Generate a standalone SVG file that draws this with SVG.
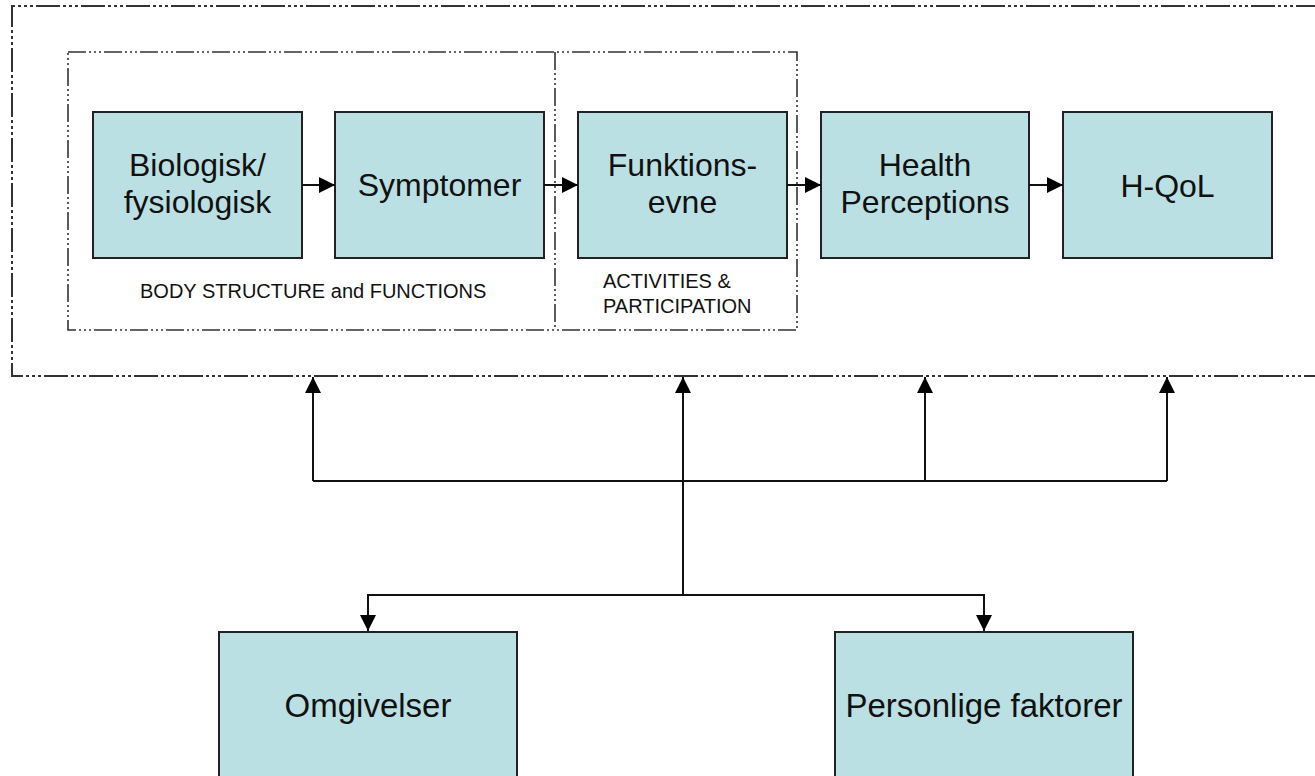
<svg xmlns="http://www.w3.org/2000/svg" width="1315" height="776" viewBox="0 0 1315 776">
<defs>
<style>
.node{fill:#bbe0e3;stroke:#222;stroke-width:2}
.t{font-family:"Liberation Sans",Arial,sans-serif;font-size:32px;fill:#111;text-anchor:middle}
.b{font-family:"Liberation Sans",Arial,sans-serif;font-size:33px;fill:#111;text-anchor:middle}
.lab{font-family:"Liberation Sans",Arial,sans-serif;font-size:20px;fill:#111}
.frame{fill:none;stroke:#333;stroke-width:2;stroke-dasharray:24 3 3 3 3 3 3 3}
.inner{fill:none;stroke:#333;stroke-width:1.6;stroke-dasharray:18 3 2 3 2 3 2 3}
.c{fill:none;stroke:#111;stroke-width:2}
</style>
<marker id="arr" viewBox="0 0 16 16" refX="16" refY="8" markerWidth="16" markerHeight="16" orient="auto" markerUnits="userSpaceOnUse">
<path d="M0,0 L16,8 L0,16 Z" fill="#000"/>
</marker>
</defs>
<rect width="1315" height="776" fill="#fff"/>
<g id="frames">
<path class="frame" d="M1320,6 H12 V376 H1320"/>
<rect class="inner" x="68" y="52" width="729" height="278"/>
<line class="inner" x1="555" y1="52" x2="555" y2="330"/>
<text class="lab" x="140" y="298">BODY STRUCTURE and FUNCTIONS</text>
<text class="lab" x="603" y="288">ACTIVITIES &amp;</text>
<text class="lab" x="603" y="313">PARTICIPATION</text>
</g>
<g id="n-bio"><rect class="node" x="93" y="112" width="209" height="146"/><text class="t" x="197.5" y="176">Biologisk/</text><text class="t" x="197.5" y="213">fysiologisk</text></g>
<g id="n-sym"><rect class="node" x="335" y="112" width="209" height="146"/><text class="t" x="439.5" y="196">Symptomer</text></g>
<g id="n-fun"><rect class="node" x="578" y="112" width="209" height="146"/><text class="t" x="682.5" y="176">Funktions-</text><text class="t" x="682.5" y="213">evne</text></g>
<g id="n-hp"><rect class="node" x="821" y="112" width="208" height="146"/><text class="t" x="925" y="176">Health</text><text class="t" x="925" y="213">Perceptions</text></g>
<g id="n-hqol"><rect class="node" x="1063" y="112" width="209" height="146"/><text class="t" x="1167.5" y="197">H-QoL</text></g>
<g id="n-omg"><rect class="node" x="219" y="632" width="298" height="160"/><text class="b" x="368" y="717">Omgivelser</text></g>
<g id="n-pers"><rect class="node" x="835" y="632" width="298" height="160"/><text class="b" x="984" y="717">Personlige faktorer</text></g>
<g id="connectors">
<line class="c" x1="302" y1="185" x2="335" y2="185" marker-end="url(#arr)"/>
<line class="c" x1="544" y1="185" x2="578" y2="185" marker-end="url(#arr)"/>
<line class="c" x1="787" y1="185" x2="821" y2="185" marker-end="url(#arr)"/>
<line class="c" x1="1029" y1="185" x2="1063" y2="185" marker-end="url(#arr)"/>
<path class="c" d="M313,481 H1167"/>
<line class="c" x1="313" y1="481" x2="313" y2="377" marker-end="url(#arr)"/>
<line class="c" x1="925" y1="481" x2="925" y2="377" marker-end="url(#arr)"/>
<line class="c" x1="1167" y1="481" x2="1167" y2="377" marker-end="url(#arr)"/>
<line class="c" x1="683" y1="595" x2="683" y2="377" marker-end="url(#arr)"/>
<path class="c" d="M683,595 H368 V631" marker-end="url(#arr)"/>
<path class="c" d="M683,595 H984 V631" marker-end="url(#arr)"/>
</g>
</svg>
